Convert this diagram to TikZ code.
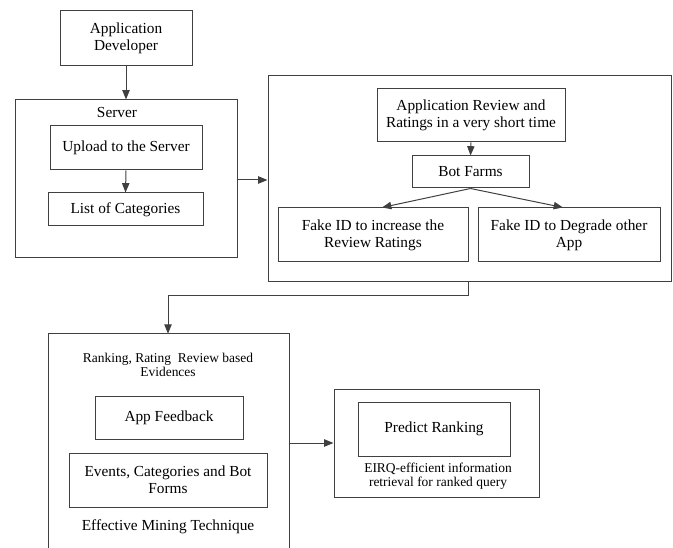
\documentclass[tikz,border=0pt]{standalone}
\usepackage{fontspec}
\setmainfont{Liberation Serif}
\usetikzlibrary{arrows.meta}
\tikzset{
  every picture/.style={x=0.75pt,y=-0.75pt},
  ln/.style={draw=black!75,line width=0.75pt},
  arr/.style={ln,-{Triangle[length=7pt,width=5.5pt]}},
  box/.style 2 args={ln,rectangle,inner sep=0pt,align=center,
    minimum width=#1*0.75pt,minimum height=#2*0.75pt,
    font=\fontsize{11.5}{12.75}\selectfont},
  frame/.style 2 args={rectangle,inner sep=0pt,
    minimum width=#1*0.75pt,minimum height=#2*0.75pt},
  lbl/.style={inner sep=0pt,align=center,font=\fontsize{11.5}{12.75}\selectfont},
  slbl/.style={inner sep=0pt,align=center,font=\fontsize{10.1}{10.5}\selectfont},
}
\begin{document}
\begin{tikzpicture}
\useasboundingbox (0,0) rectangle (673,548);
% top-left
\node[box={132}{55}] (dev) at (126,38.5) {Application\\Developer};
\node[box={222}{158}] (server) at (126,179) {};
\node[lbl] (serverlbl) at (117,113) {Server};
\node[box={152}{44}] (upload) at (126,148) {Upload to the Server};
\node[box={155}{33}] (list) at (125.5,209.5) {List of Categories};
\draw[arr] (dev.south) -- (server.north);
\draw[arr] (upload.south) -- (list.north);
% right top
\node[box={403}{206}] (big) at (469.5,179) {};
\node[box={188}{53}] (review) at (471,115.5) {Application Review and\\Ratings in a very short time};
\node[box={117}{32}] (bot) at (470.5,172) {Bot Farms};
\node[box={190}{54}] (fake1) at (373,235) {Fake ID to increase the\\Review Ratings};
\node[box={182}{54}] (fake2) at (569,235) {Fake ID to Degrade other\\App};
\draw[arr] (review.south) -- (bot.north);
\draw[arr] (bot.south) -- (fake1.north -| 382,0);
\draw[arr] (bot.south) -- (fake2.north -| 563,0);
\draw[arr] (server.east |- 0,180) -- (big.west |- 0,180);
% bottom left
\node[frame={240}{216}] (mine) at (169,442) {};
\draw[ln] (mine.south west) -- (mine.north west) -- (mine.north east) -- (mine.south east);
\node[slbl] (rank) at (168,365) {Ranking, Rating\ \ Review based\\Evidences};
\node[box={148}{43}] (appfb) at (169,417.5) {App Feedback};
\node[box={198}{54}] (events) at (168,480) {Events, Categories and Bot\\Forms};
\node[lbl] (emt) at (168,527) {Effective Mining Technique};
\coordinate (c1) at (468,296);
\coordinate (c2) at (168,296);
\draw[arr] (big.south -| c1) -- (c1) -- (c2) -- (mine.north -| c2);
% bottom right
\node[box={205}{108}] (pred) at (436.5,443) {};
\node[box={152}{54}] (predict) at (434,429) {Predict Ranking};
\node[slbl] (eirq) at (438,476) {EIRQ-efficient information\\retrieval for ranked query};
\draw[arr] (mine.east |- pred.west) -- (pred.west);
\end{tikzpicture}
\end{document}
